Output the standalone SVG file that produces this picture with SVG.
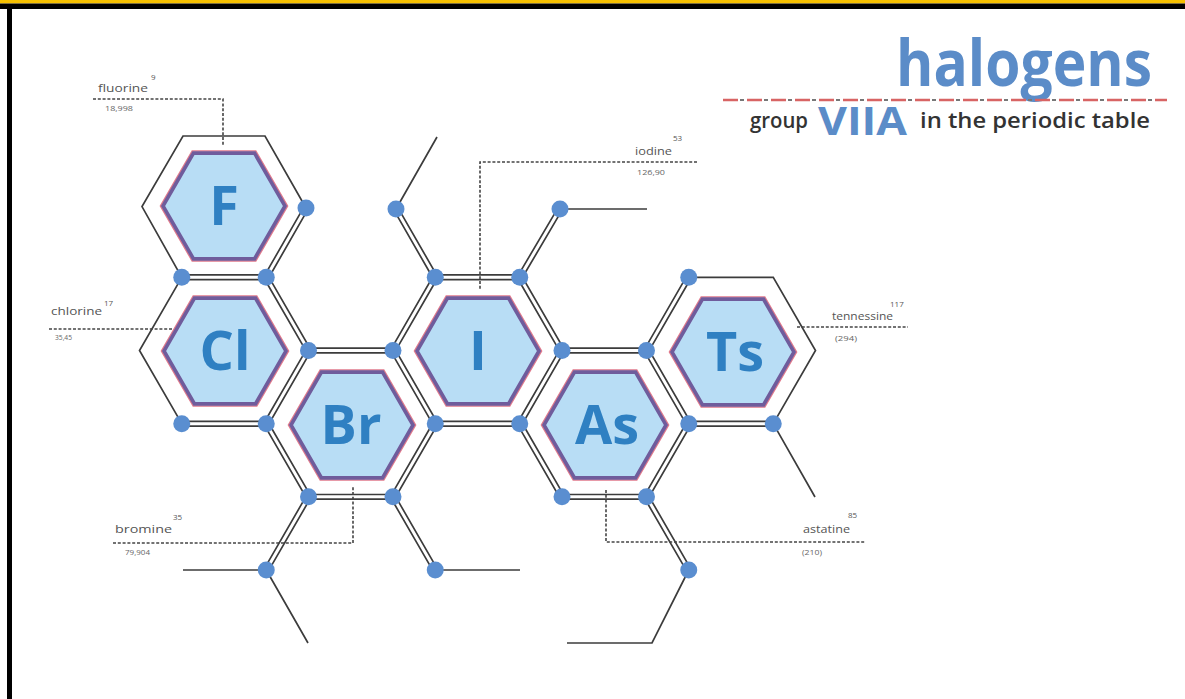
<svg xmlns="http://www.w3.org/2000/svg" xmlns:xlink="http://www.w3.org/1999/xlink" width="1185" height="699" viewBox="0 0 1185 699">
<style>
.bo{fill:none;stroke:#3c3c3c;stroke-width:6.4}
.bi{fill:none;stroke:#ffffff;stroke-width:3}
.sl{fill:none;stroke:#3c3c3c;stroke-width:1.7}
.dl{fill:none;stroke:#444;stroke-width:1.6;stroke-dasharray:3 1.8}
.dot{fill:#5a8ed0}
.sym{font-family:"Open Sans","Liberation Sans",sans-serif;font-weight:700;font-size:54px;fill:#2f80c2;text-anchor:middle}
.lb{font-family:"Open Sans","Liberation Sans",sans-serif;font-size:11px;fill:#555}
.nm{font-family:"Open Sans","Liberation Sans",sans-serif;font-size:8px;fill:#555}
.sm{font-family:"Open Sans","Liberation Sans",sans-serif;font-size:7px;fill:#666}
.t1{font-family:"Open Sans","Liberation Sans",sans-serif;font-weight:700;fill:#5b8cc8}
.t2{font-family:"Open Sans","Liberation Sans",sans-serif;font-weight:600;font-size:21px;fill:#333}
</style>
<defs>
<g id="inner">
<polygon points="63.5,0 31.75,54.99 -31.75,54.99 -63.5,0 -31.75,-54.99 31.75,-54.99" fill="none" stroke="#e07a8c" stroke-width="1.6"/>
<polygon points="61,0 30.5,52.83 -30.5,52.83 -61,0 -30.5,-52.83 30.5,-52.83" fill="#b8ddf5" stroke="#6f5c9c" stroke-width="3.6"/>
</g>
<path id="bonds" d="M306,208 L266.25,277.32 M181.75,277.32 L266.25,277.32 M266.25,277.32 L308.5,350.5 L266.25,423.68 L181.75,423.68 M308.5,350.5 L393,350.5 L435.25,423.68 L393,496.86 L308.5,496.86 L266.25,423.68 M393,350.5 L435.25,277.32 L519.75,277.32 L562,350.5 L519.75,423.68 L435.25,423.68 M562,350.5 L646.5,350.5 L688.75,423.68 L646.5,496.86 L562,496.86 L519.75,423.68 M646.5,350.5 L688.75,277.32 M688.75,423.68 L773.25,423.68 M435.25,277.32 L396,209 M519.75,277.32 L560,209 M308.5,496.86 L266.25,570 M393,496.86 L435.25,570 M646.5,496.86 L688.75,570"/>
</defs>
<rect width="1185" height="699" fill="#ffffff"/>
<rect x="0" y="0" width="1185" height="3.5" fill="#f6c000"/>
<rect x="0" y="3.5" width="1185" height="5.5" fill="#000"/>
<rect x="7" y="9" width="5" height="690" fill="#000"/>

<g id="title">
<text class="t1" x="896" y="86" font-size="64" textLength="256" lengthAdjust="spacingAndGlyphs">halogens</text>
<line x1="723" y1="100" x2="1167" y2="100" stroke="#d86464" stroke-width="2.5" stroke-dasharray="15 9"/>
<line x1="740" y1="100" x2="1167" y2="100" stroke="#777" stroke-width="2" stroke-dasharray="4 20"/>
<text class="t2" x="750" y="128" textLength="58" lengthAdjust="spacingAndGlyphs">group</text>
<text class="t1" x="818" y="135" font-size="40" textLength="89" lengthAdjust="spacingAndGlyphs">VIIA</text>
<text class="t2" x="920" y="128" textLength="230" lengthAdjust="spacingAndGlyphs">in the periodic table</text>
</g>

<g id="connectors">
<path class="sl" d="M181.75,277.32 L142,206.6 L183,136 L265,136 L306,208 M181.75,277.32 L139.5,350.5 L181.75,423.68 M688.75,277.32 L773.25,277.32 L815.5,350.5 L773.25,423.68 M396,209 L437,137 M560,209 L647,209 M266.25,570 L183,570 M266.25,570 L308,643 M435.25,570 L520,570 M688.75,570 L652,643 L567,643 M773.25,423.68 L815,497"/>
<use xlink:href="#bonds" href="#bonds" class="bo"/>
<use xlink:href="#bonds" href="#bonds" class="bi"/>
<path class="dl" d="M93,99 H223 V146 M49,329 H172 M697,162 H480 V290 M797,327 H908 M113,543 H353 V487 M606,490 V542 H865"/>
</g>

<g id="node-F"><use xlink:href="#inner" href="#inner" x="224" y="206"/><text class="sym" x="224" y="225">F</text></g>
<g id="node-Cl"><use xlink:href="#inner" href="#inner" x="225" y="351"/><text class="sym" x="225" y="370">Cl</text></g>
<g id="node-Br"><use xlink:href="#inner" href="#inner" x="352" y="425"/><text class="sym" x="351" y="444">Br</text></g>
<g id="node-I"><use xlink:href="#inner" href="#inner" x="478" y="351"/><text class="sym" x="478" y="370">I</text></g>
<g id="node-As"><use xlink:href="#inner" href="#inner" x="605" y="425"/><text class="sym" x="607" y="444">As</text></g>
<g id="node-Ts"><use xlink:href="#inner" href="#inner" x="733" y="352"/><text class="sym" x="735" y="371">Ts</text></g>

<g id="dots">
<circle class="dot" cx="306" cy="208" r="8.5"/>
<circle class="dot" cx="181.75" cy="277.32" r="8.5"/>
<circle class="dot" cx="266.25" cy="277.32" r="8.5"/>
<circle class="dot" cx="308.5" cy="350.5" r="8.5"/>
<circle class="dot" cx="393" cy="350.5" r="8.5"/>
<circle class="dot" cx="181.75" cy="423.68" r="8.5"/>
<circle class="dot" cx="266.25" cy="423.68" r="8.5"/>
<circle class="dot" cx="435.25" cy="277.32" r="8.5"/>
<circle class="dot" cx="519.75" cy="277.32" r="8.5"/>
<circle class="dot" cx="396" cy="209" r="8.5"/>
<circle class="dot" cx="560" cy="209" r="8.5"/>
<circle class="dot" cx="562" cy="350.5" r="8.5"/>
<circle class="dot" cx="646.5" cy="350.5" r="8.5"/>
<circle class="dot" cx="688.75" cy="277.32" r="8.5"/>
<circle class="dot" cx="435.25" cy="423.68" r="8.5"/>
<circle class="dot" cx="519.75" cy="423.68" r="8.5"/>
<circle class="dot" cx="688.75" cy="423.68" r="8.5"/>
<circle class="dot" cx="773.25" cy="423.68" r="8.5"/>
<circle class="dot" cx="308.5" cy="496.86" r="8.5"/>
<circle class="dot" cx="393" cy="496.86" r="8.5"/>
<circle class="dot" cx="562" cy="496.86" r="8.5"/>
<circle class="dot" cx="646.5" cy="496.86" r="8.5"/>
<circle class="dot" cx="266.25" cy="570" r="8.5"/>
<circle class="dot" cx="435.25" cy="570" r="8.5"/>
<circle class="dot" cx="688.75" cy="570" r="8.5"/>
</g>

<g id="labels">
<text class="lb" x="98" y="92" textLength="50" lengthAdjust="spacingAndGlyphs">fluorine</text>
<text class="nm" x="151" y="80">9</text>
<text class="sm" x="105" y="111" textLength="28" lengthAdjust="spacingAndGlyphs">18,998</text>
<text class="lb" x="51" y="315" textLength="51" lengthAdjust="spacingAndGlyphs">chlorine</text>
<text class="nm" x="104" y="306">17</text>
<text class="sm" x="55" y="340" textLength="17" lengthAdjust="spacingAndGlyphs">35,45</text>
<text class="lb" x="635" y="155" textLength="37" lengthAdjust="spacingAndGlyphs">iodine</text>
<text class="nm" x="673" y="141">53</text>
<text class="sm" x="637" y="175" textLength="28" lengthAdjust="spacingAndGlyphs">126,90</text>
<text class="lb" x="832" y="320" textLength="61" lengthAdjust="spacingAndGlyphs">tennessine</text>
<text class="nm" x="890" y="307">117</text>
<text class="sm" x="835" y="341" textLength="22" lengthAdjust="spacingAndGlyphs">(294)</text>
<text class="lb" x="115" y="533" textLength="57" lengthAdjust="spacingAndGlyphs">bromine</text>
<text class="nm" x="173" y="520">35</text>
<text class="sm" x="125" y="555" textLength="25" lengthAdjust="spacingAndGlyphs">79,904</text>
<text class="lb" x="803" y="533" textLength="47" lengthAdjust="spacingAndGlyphs">astatine</text>
<text class="nm" x="848" y="518">85</text>
<text class="sm" x="802" y="555" textLength="20" lengthAdjust="spacingAndGlyphs">(210)</text>
</g>
</svg>
